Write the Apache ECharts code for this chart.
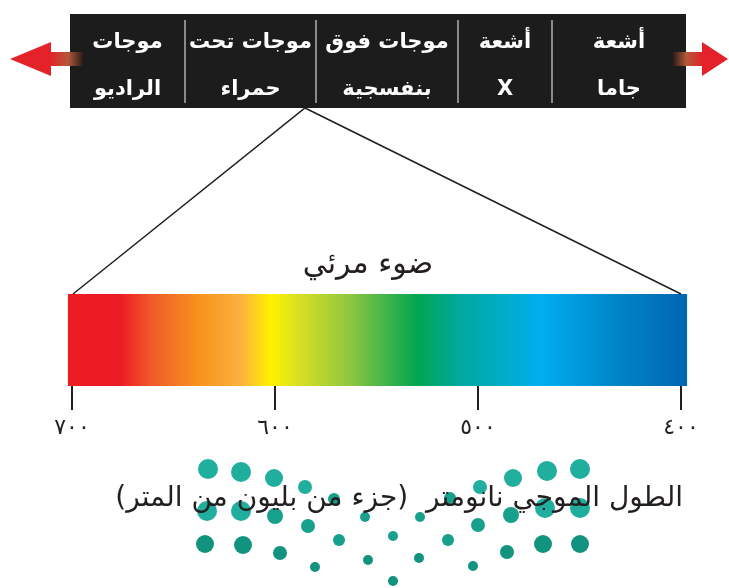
<!DOCTYPE html>
<html>
<head>
    <meta charset="utf-8"/>
    <title>ECharts</title>
    <script src="https://cdn.jsdelivr.net/npm/echarts@6/dist/echarts.min.js"></script>
    <style>body { margin: 0; background: #fff; }</style>
</head>
<body>
<div id="main" dir="rtl" style="width: 729px; height: 588px"></div>
<script type="text/javascript">
    // strip of the electromagnetic spectrum (widths in diagram units)
    var bandNames = ['موجات\nالراديو', 'موجات تحت\nحمراء', 'موجات فوق\nبنفسجية', 'أشعة\nX', 'أشعة\nجاما'];
    var bandEdges = [0, 115, 246, 388, 482, 616];
    var visibleAt = 235;

    // visible light, wavelength in nm
    var tickNm = [700, 600, 500, 400];
    var barNm = [702, 397];
    var stopNm = [702, 676, 661, 637, 617, 602, 588, 563, 530, 509, 469, 430, 397];
    var stopColor = ['#ed1c24', '#ed1c24', '#f15a29', '#f7941d', '#fbb040', '#fff200', '#d7df23',
        '#8dc63f', '#00a651', '#00a99d', '#00aeef', '#0083c6', '#0066b3'];

    // watermark dots: x, y, radius, tone
    var dots = [
        [208, 469, 10, 0], [241, 472, 10, 0], [274, 478, 9, 0], [305, 487, 7, 0], [334, 499, 6, 1],
        [365, 517, 5, 1], [393, 536, 5, 1], [420, 517, 5, 1], [450, 498, 6, 1], [480, 487, 7, 0],
        [513, 478, 9, 0], [547, 471, 10, 0], [580, 469, 10, 0],
        [207, 511, 10, 0], [241, 511, 10, 0], [275, 516, 8, 1], [308, 526, 7, 1], [339, 540, 6, 1],
        [368, 560, 5, 2], [419, 558, 5, 2], [448, 540, 6, 1], [478, 525, 7, 1], [511, 515, 8, 1],
        [545, 508, 10, 0], [580, 508, 10, 0],
        [205, 544, 9, 2], [243, 545, 9, 2], [280, 553, 7, 2], [315, 567, 5, 2], [393, 581, 5, 2],
        [473, 566, 5, 2], [507, 552, 7, 2], [543, 544, 9, 2], [580, 544, 9, 2]
    ];
    var dotTones = ['#20ae9e', '#17a08c', '#11937f'];

    var arabicDigits = '٠١٢٣٤٥٦٧٨٩';
    var font = "'DejaVu Sans', sans-serif";
    var ink = '#231f20';

    var myChart = echarts.init(document.getElementById('main'));

    function renderBand(params, api) {
        var p0 = api.coord([api.value(0), 1]);
        var p1 = api.coord([api.value(1), 0]);
        var kids = [{
            type: 'rect',
            shape: {x: p0[0], y: p0[1], width: p1[0] - p0[0], height: p1[1] - p0[1]},
            style: {fill: '#1c1c1c'}
        }];
        if (params.dataIndex > 0) {
            kids.push({
                type: 'line',
                shape: {x1: p0[0], y1: p0[1] + 6, x2: p0[0], y2: p1[1] - 5},
                style: {stroke: '#8a8a8a', lineWidth: 2}
            });
        }
        kids.push({
            type: 'text',
            style: {
                text: bandNames[params.dataIndex],
                x: (p0[0] + p1[0]) / 2, y: (p0[1] + p1[1]) / 2 + 5,
                align: 'center', verticalAlign: 'middle',
                fill: '#fff', fontSize: 21, fontWeight: 'bold', lineHeight: 47, fontFamily: font
            }
        });
        return {type: 'group', children: kids};
    }

    function renderSpectrum(params, api) {
        var p0 = api.coord([api.value(0), 1]);
        var p1 = api.coord([api.value(1), 0]);
        var span = barNm[0] - barNm[1];
        var stops = stopNm.map(function (nm, i) {
            return {offset: (barNm[0] - nm) / span, color: stopColor[i]};
        });
        return {
            type: 'rect',
            shape: {x: p0[0], y: p0[1], width: p1[0] - p0[0], height: p1[1] - p0[1]},
            style: {fill: new echarts.graphic.LinearGradient(0, 0, 1, 0, stops)}
        };
    }

    var option = {
        animation: false,
        textStyle: {fontFamily: font},
        title: [{
            text: 'ضوء مرئي',
            left: 363, top: 245, textAlign: 'center',
            textStyle: {fontSize: 30, fontWeight: 'normal', color: ink, fontFamily: font}
        }, {
            text: 'الطول الموجي نانومتر  (جزء من بليون من المتر)',
            right: 41, top: 480,
            textStyle: {fontSize: 28, fontWeight: 'normal', color: ink, fontFamily: font}
        }],
        grid: [
            {left: 72, top: 294, width: 609, height: 92},
            {left: 70, top: 14, width: 616, height: 94},
            {left: 0, top: 0, width: 729, height: 588}
        ],
        xAxis: [{
            gridIndex: 0, type: 'value', min: 400, max: 700, interval: 100, inverse: true,
            axisLine: {show: false},
            splitLine: {show: false},
            axisTick: {length: 24, lineStyle: {color: ink, width: 2}},
            axisLabel: {
                margin: 31, fontSize: 22, color: ink, fontFamily: font,
                formatter: function (v) {
                    return String(v).replace(/\d/g, function (d) { return arabicDigits[d]; });
                }
            }
        }, {
            gridIndex: 1, type: 'value', min: bandEdges[0], max: bandEdges[bandEdges.length - 1], show: false
        }, {
            gridIndex: 2, type: 'value', min: 0, max: 729, show: false
        }],
        yAxis: [
            {gridIndex: 0, type: 'value', min: 0, max: 1, show: false},
            {gridIndex: 1, type: 'value', min: 0, max: 1, show: false},
            {gridIndex: 2, type: 'value', min: 0, max: 588, inverse: true, show: false}
        ],
        series: [{
            type: 'custom',
            xAxisIndex: 0, yAxisIndex: 0,
            encode: {x: [0, 1]},
            renderItem: renderSpectrum,
            data: [barNm]
        }, {
            type: 'custom',
            xAxisIndex: 1, yAxisIndex: 1,
            encode: {x: [0, 1]},
            renderItem: renderBand,
            data: bandNames.map(function (n, i) { return [bandEdges[i], bandEdges[i + 1]]; })
        }, {
            type: 'scatter',
            xAxisIndex: 2, yAxisIndex: 2,
            z: 1,
            symbolSize: function (v) { return v[2] * 2; },
            itemStyle: {
                opacity: 1,
                color: function (p) { return dotTones[p.data[3]]; }
            },
            data: dots
        }]
    };

    myChart.setOption(option);

    // arrows and the zoom lines, placed from the grids
    var sL = myChart.convertToPixel({gridIndex: 1}, [bandEdges[0], 1]);
    var sR = myChart.convertToPixel({gridIndex: 1}, [bandEdges[bandEdges.length - 1], 0]);
    var cy = (sL[1] + sR[1]) / 2 - 2;
    var apex = myChart.convertToPixel({gridIndex: 1}, [visibleAt, 0]);
    var endL = myChart.convertToPixel({gridIndex: 0}, [tickNm[0], 1]);
    var endR = myChart.convertToPixel({gridIndex: 0}, [tickNm[tickNm.length - 1], 1]);
    var red = '#e42229';

    myChart.setOption({
        graphic: [{
            type: 'polyline', z: 5,
            shape: {points: [[endL[0] + 1, endL[1]], apex, [endR[0], endR[1]]]},
            style: {stroke: ink, lineWidth: 1.5, fill: null}
        }, {
            type: 'rect', z: 10,
            shape: {x: sL[0] - 20, y: cy - 7, width: 33, height: 14},
            style: {fill: new echarts.graphic.LinearGradient(0, 0, 1, 0, [
                {offset: 0, color: red}, {offset: 0.55, color: '#b4583a'}, {offset: 1, color: '#2a1c18'}])}
        }, {
            type: 'polygon', z: 10,
            shape: {points: [[sL[0] - 19, cy - 17], [sL[0] - 60, cy], [sL[0] - 19, cy + 17]]},
            style: {fill: red}
        }, {
            type: 'rect', z: 10,
            shape: {x: sR[0] - 13, y: cy - 7, width: 30, height: 14},
            style: {fill: new echarts.graphic.LinearGradient(0, 0, 1, 0, [
                {offset: 0, color: '#2a1c18'}, {offset: 0.45, color: '#b4583a'}, {offset: 1, color: red}])}
        }, {
            type: 'polygon', z: 10,
            shape: {points: [[sR[0] + 16, cy - 17], [sR[0] + 42, cy], [sR[0] + 16, cy + 17]]},
            style: {fill: red}
        }]
    });
</script>
</body>
</html>
